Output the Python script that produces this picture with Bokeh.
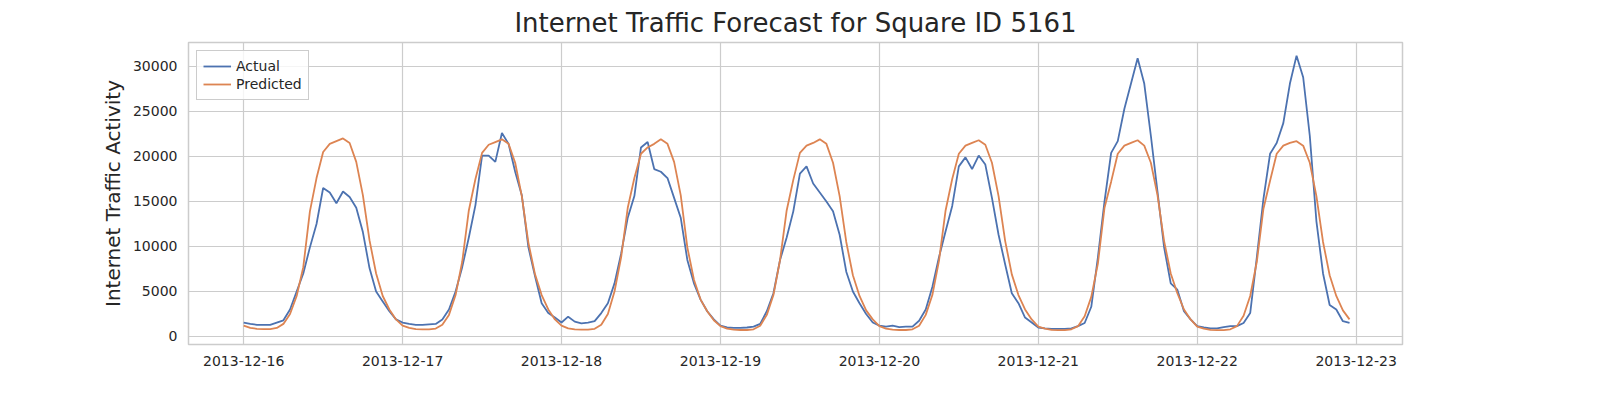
import pandas as pd
from bokeh.plotting import figure
from bokeh.models import ColumnDataSource, DatetimeTickFormatter, DaysTicker, Range1d, NumeralTickFormatter
from bokeh.embed import file_html
from bokeh.resources import INLINE

# hourly readings, 2013-12-16 00:00 .. 2013-12-22 23:00
start = "2013-12-16 00:00"
actual = [
    1550, 1400, 1300, 1300, 1300, 1550, 1800, 3000, 5000, 7000, 9900, 12500,
    16500, 16000, 14800, 16100, 15500, 14300, 11600, 7600, 5000, 3900, 2800, 1900,
    1550, 1400, 1300, 1300, 1350, 1400, 1900, 3000, 5000, 7700, 11000, 14600,
    20100, 20100, 19400, 22600, 21400, 18300, 15700, 9900, 6700, 3700, 2600, 2100,
    1550, 2200, 1650, 1450, 1550, 1700, 2600, 3700, 5900, 9200, 13200, 15600,
    21000, 21600, 18600, 18300, 17600, 15400, 13200, 8500, 5900, 4100, 2800, 1900,
    1200, 1000, 950, 950, 1000, 1100, 1400, 2800, 4800, 8500, 11000, 13900,
    18100, 18900, 17000, 16000, 15000, 13900, 11300, 7200, 5000, 3700, 2500, 1550,
    1200, 1100, 1200, 1050, 1100, 1100, 1750, 3000, 5500, 8800, 11700, 14500,
    18900, 19900, 18600, 20100, 19100, 15400, 11300, 8000, 4800, 3700, 2100, 1550,
    1000, 900, 850, 850, 850, 900, 1150, 1500, 3300, 8800, 15000, 20400,
    21700, 25300, 28100, 30900, 28100, 22300, 16100, 9900, 5900, 5200, 2800, 1900,
    1150, 1000, 900, 900, 1050, 1150, 1150, 1500, 2600, 8800, 15300, 20300,
    21500, 23700, 28100, 31200, 28800, 22300, 12800, 7000, 3500, 3000, 1700, 1500,
]
predicted = [
    1200, 950, 850, 820, 820, 950, 1400, 2500, 4500, 7700, 13900, 17600,
    20500, 21400, 21700, 22000, 21500, 19400, 15700, 10700, 7000, 4500, 3000, 1900,
    1200, 950, 820, 780, 780, 880, 1300, 2400, 4600, 8300, 14000, 17500,
    20400, 21300, 21600, 21900, 21400, 19300, 15600, 10400, 6900, 4600, 3000, 1900,
    1200, 900, 800, 760, 760, 850, 1300, 2500, 5000, 8800, 14300, 17600,
    20300, 21000, 21400, 21900, 21400, 19400, 15700, 9900, 6300, 4100, 2800, 1800,
    1150, 880, 760, 720, 720, 800, 1200, 2400, 4600, 8500, 14000, 17400,
    20400, 21200, 21500, 21900, 21400, 19300, 15600, 10500, 6800, 4500, 2900, 1900,
    1150, 880, 760, 720, 720, 800, 1200, 2400, 4600, 8400, 14000, 17500,
    20300, 21200, 21500, 21800, 21300, 19300, 15600, 10600, 6900, 4600, 3000, 1900,
    1100, 870, 730, 700, 700, 800, 1150, 2250, 4400, 8100, 14300, 17200,
    20300, 21200, 21500, 21800, 21200, 19300, 15700, 10600, 7000, 4800, 3000, 1900,
    1100, 870, 730, 700, 700, 800, 1150, 2300, 4500, 8300, 14200, 17300,
    20300, 21200, 21500, 21700, 21200, 19300, 15600, 10500, 6800, 4500, 2900, 1900,
]

times = pd.date_range(start, periods=len(actual), freq="h")
source = ColumnDataSource(data=dict(t=times, actual=actual, predicted=predicted))

p = figure(title="Internet Traffic Forecast for Square ID 5161", x_axis_type="datetime",
           y_axis_label="Internet Traffic Activity", width=1560, height=380,
           output_backend="svg", toolbar_location=None,
           min_border_left=188, min_border_right=158, min_border_top=39, min_border_bottom=36)

p.x_range = Range1d(pd.Timestamp("2013-12-15 15:40"), pd.Timestamp("2013-12-23 07:00"))
p.y_range = Range1d(-890, 32660)

blue = "#4c72b0"
orange = "#dd8452"
p.line("t", "actual", source=source, line_width=1.8, color=blue, legend_label="Actual")
p.line("t", "predicted", source=source, line_width=1.8, color=orange, legend_label="Predicted")

p.title.text_font = "DejaVu Sans"
p.title.text_font_size = "26px"
p.title.text_font_style = "normal"
p.title.text_color = "#262626"
p.title.align = "center"

p.xaxis.ticker = DaysTicker(days=list(range(1, 32)))
p.xaxis.formatter = DatetimeTickFormatter(days="%Y-%m-%d", months="%Y-%m-%d")
p.yaxis.ticker = [0, 5000, 10000, 15000, 20000, 25000, 30000]
p.yaxis.formatter = NumeralTickFormatter(format="0")

for ax in (p.xaxis, p.yaxis):
    ax.major_label_text_font = "DejaVu Sans"
    ax.major_label_text_font_size = "14px"
    ax.major_label_text_color = "#262626"
    ax.axis_line_color = None
    ax.major_tick_line_color = None
    ax.minor_tick_line_color = None
p.yaxis.axis_label_text_font = "DejaVu Sans"
p.yaxis.axis_label_text_font_size = "20px"
p.yaxis.axis_label_text_font_style = "normal"
p.yaxis.axis_label_text_color = "#262626"

p.grid.grid_line_color = "#cccccc"
p.grid.grid_line_width = 1.2
p.outline_line_color = "#cccccc"
p.outline_line_width = 1.5

p.legend.location = "top_left"
p.legend.label_text_font = "DejaVu Sans"
p.legend.label_text_font_size = "14px"
p.legend.label_text_color = "#262626"
p.legend.border_line_color = "#cccccc"
p.legend.border_line_alpha = 1
p.legend.background_fill_alpha = 0.8
p.legend.spacing = 0
p.legend.padding = 6
p.legend.margin = 8
p.legend.glyph_width = 28
p.legend.glyph_height = 18
p.legend.label_height = 18

open("out.html", "w").write(file_html(p, INLINE))
